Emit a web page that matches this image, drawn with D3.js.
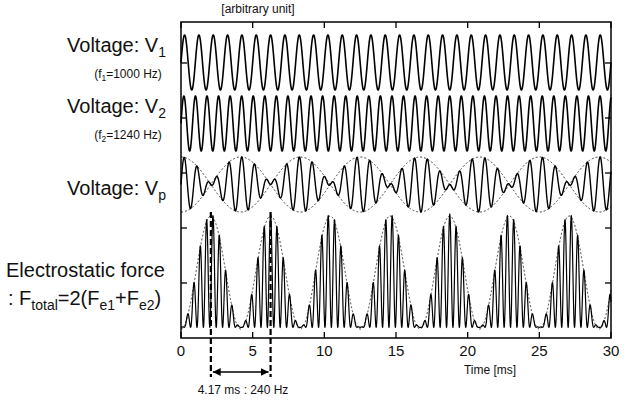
<!DOCTYPE html>
<html>
<head>
<meta charset="utf-8">
<script src="https://cdn.jsdelivr.net/npm/d3@7"></script>
<style>
  body { margin: 0; background: #fff; font-family: Arial, 'Liberation Sans', sans-serif; }
  svg text { fill: #111; }
</style>
</head>
<body>
<svg id="chart" width="635" height="400"></svg>
<script>
// signal parameters
var freqs = [1000, 1240];          // Hz
var timeRange = [0, 30];           // ms
var xTicks = [0, 5, 10, 15, 20, 25, 30];
var yTicks = [0, 1, 2, 3, 4];      // left axis ticks (arbitrary)
var beatMarks = [2.083, 6.25];     // ms, dashed markers
var nSamples = 9000;

var svg = d3.select('#chart');
var x0 = 181, x1 = 611, plotTop = 22, plotBottom = 338;

var x = d3.scaleLinear().domain(timeRange).range([x0, x1]);

var ts = d3.range(nSamples + 1).map(function (i) { return timeRange[0] + (timeRange[1] - timeRange[0]) * i / nSamples; });
function v1(t) { return Math.sin(2 * Math.PI * freqs[0] * t / 1000); }
function v2(t) { return Math.sin(2 * Math.PI * freqs[1] * t / 1000); }
var beat = freqs[1] - freqs[0];

var yV1 = d3.scaleLinear().domain([-1, 1]).range([90, 35]);
var yV2 = d3.scaleLinear().domain([-1, 1]).range([151, 96]);
var yVp = d3.scaleLinear().domain([-2, 2]).range([212, 157]);
var yF = d3.scaleLinear().domain([0, 4]).range([329, 216]);

var line = function (fy, sc) {
  return d3.line().x(function (t) { return x(t); }).y(function (t) { return sc(fy(t)); })(ts);
};

var g = svg.append('g');
function path(d, w, dash) {
  g.append('path').attr('d', d).attr('fill', 'none').attr('stroke', '#000')
    .attr('stroke-width', w).attr('stroke-dasharray', dash || null);
}
path(line(v1, yV1), 1.6);
path(line(v2, yV2), 1.6);
path(line(function (t) { return v1(t) + v2(t); }, yVp), 1.4);
var envP = function (t) { return 2 * Math.abs(Math.cos(Math.PI * beat * t / 1000)); };
path(line(envP, yVp), 0.8, '2,2');
path(line(function (t) { return -envP(t); }, yVp), 0.8, '2,2');
path(line(function (t) { var d = v1(t) - v2(t); return d * d + 0.06; }, yF), 1.2);
path(line(function (t) { var s = Math.sin(Math.PI * beat * t / 1000); return 4 * s * s; }, yF), 0.8, '2,2');

// frame
svg.append('rect').attr('x', x0).attr('y', plotTop).attr('width', x1 - x0).attr('height', plotBottom - plotTop)
  .attr('fill', 'none').attr('stroke', '#000').attr('stroke-width', 1.5);

// ticks inside, all four sides
xTicks.forEach(function (v) {
  svg.append('line').attr('x1', x(v)).attr('x2', x(v)).attr('y1', plotBottom).attr('y2', plotBottom - 6).attr('stroke', '#000').attr('stroke-width', 1.3);
  svg.append('line').attr('x1', x(v)).attr('x2', x(v)).attr('y1', plotTop).attr('y2', plotTop + 6).attr('stroke', '#000').attr('stroke-width', 1.3);
  svg.append('text').attr('x', x(v)).attr('y', 356).attr('text-anchor', 'middle').attr('font-size', 15).text(v);
});
var yT = d3.scaleLinear().domain([0, 4]).range([63, 283]);
yTicks.forEach(function (v) {
  svg.append('line').attr('x1', x0).attr('x2', x0 + 6).attr('y1', yT(v)).attr('y2', yT(v)).attr('stroke', '#000').attr('stroke-width', 1.3);
  svg.append('line').attr('x1', x1).attr('x2', x1 - 6).attr('y1', yT(v)).attr('y2', yT(v)).attr('stroke', '#000').attr('stroke-width', 1.3);
});

svg.append('text').attr('x', 490).attr('y', 374).attr('text-anchor', 'middle').attr('font-size', 12).text('Time [ms]');
svg.append('text').attr('x', 258).attr('y', 13).attr('text-anchor', 'middle').attr('font-size', 12).text('[arbitrary unit]');

// beat markers
beatMarks.forEach(function (t) {
  svg.append('line').attr('x1', x(t)).attr('x2', x(t)).attr('y1', 212).attr('y2', 377)
    .attr('stroke', '#000').attr('stroke-width', 2.2).attr('stroke-dasharray', '6,3');
});
svg.append('defs').html('<marker id="ah" viewBox="0 0 10 10" refX="10" refY="5" markerWidth="6" markerHeight="6" orient="auto-start-reverse"><path d="M0,0L10,5L0,10z" fill="#000"/></marker>');
svg.append('line').attr('x1', x(beatMarks[0]) + 2).attr('x2', x(beatMarks[1]) - 2).attr('y1', 372).attr('y2', 372)
  .attr('stroke', '#000').attr('stroke-width', 1.3).attr('marker-start', 'url(#ah)').attr('marker-end', 'url(#ah)');
svg.append('text').attr('x', 243).attr('y', 394).attr('text-anchor', 'middle').attr('font-size', 12).text('4.17 ms : 240 Hz');

// left labels
function lab(xp, y, size, anchor, parts) {
  var t = svg.append('text').attr('x', xp).attr('y', y).attr('font-size', size).attr('text-anchor', anchor);
  parts.forEach(function (p) {
    var s = t.append('tspan').text(p[0]);
    if (p[1]) s.attr('font-size', size * 0.7).attr('dy', size * 0.25);
    else if (p[2]) s.attr('dy', -size * 0.25);
  });
}
lab(166, 52, 20, 'end', [['Voltage: V'], ['1', 1]]);
lab(128, 78, 12, 'middle', [['(f'], ['1', 1], ['=1000 Hz)', 0, 1]]);
lab(166, 113, 20, 'end', [['Voltage: V'], ['2', 1]]);
lab(128, 139, 12, 'middle', [['(f'], ['2', 1], ['=1240 Hz)', 0, 1]]);
lab(166, 195, 20, 'end', [['Voltage: V'], ['p', 1]]);
lab(6, 277, 20, 'start', [['Electrostatic force']]);
lab(8, 305, 20, 'start', [[': F'], ['total', 1], ['=2(F', 0, 1], ['e1', 1], ['+F', 0, 1], ['e2', 1], [')', 0, 1]]);
</script>
</body>
</html>
